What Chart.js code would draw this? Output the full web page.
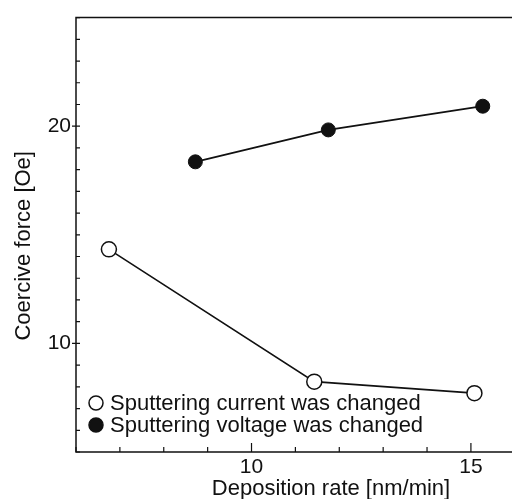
<!DOCTYPE html>
<html>
<head>
<meta charset="utf-8">
<script src="https://cdn.jsdelivr.net/npm/chart.js@4"></script>
<style>
  html, body { margin: 0; padding: 0; background: #fff; overflow: hidden; }
  #wrap { width: 600px; height: 499px; }
</style>
</head>
<body>
<div id="wrap"><canvas id="chart"></canvas></div>
<script>
// Sputtering current was changed (open circles)
const currentRate = [6.75, 11.43, 15.08];
const currentForce = [14.33, 8.24, 7.71];

// Sputtering voltage was changed (filled circles)
const voltageRate = [8.72, 11.75, 15.27];
const voltageForce = [18.36, 19.83, 20.92];

// Labelled ticks
const xTickLabels = [10, 15];
const yTickLabels = [10, 20];

const ink = '#111';
const font = '"Liberation Sans", Arial, sans-serif';

function toPoints(xs, ys) {
    return xs.map((x, i) => ({ x: x, y: ys[i] }));
}

// Frame (top, left, bottom), inward ticks, axis titles and inset legend
const decorations = {
    id: 'decorations',
    afterDraw(chart) {
        const { ctx, chartArea: a, scales: { x, y } } = chart;
        ctx.save();
        ctx.strokeStyle = ink;
        ctx.lineWidth = 1.5;
        ctx.beginPath();
        ctx.moveTo(a.right, a.top);
        ctx.lineTo(a.left, a.top);
        ctx.lineTo(a.left, a.bottom);
        ctx.lineTo(a.right, a.bottom);
        ctx.stroke();

        ctx.lineWidth = 1.2;
        ctx.beginPath();
        for (let v = Math.ceil(x.min); v < x.max; v++) {
            const px = x.getPixelForValue(v);
            const len = xTickLabels.includes(v) ? 9 : 5;
            ctx.moveTo(px, a.bottom);
            ctx.lineTo(px, a.bottom - len);
        }
        for (let v = Math.ceil(y.min); v <= y.max; v++) {
            const py = y.getPixelForValue(v);
            const major = yTickLabels.includes(v);
            ctx.moveTo(a.left - (major ? 4 : 0), py);
            ctx.lineTo(a.left + 4, py);
        }
        ctx.stroke();

        // Axis titles
        ctx.fillStyle = ink;
        ctx.font = '22px ' + font;
        ctx.textAlign = 'center';
        ctx.textBaseline = 'middle';
        ctx.fillText('Deposition rate [nm/min]', 331, 489);
        ctx.save();
        ctx.translate(24, (a.top + a.bottom) / 2 + 11);
        ctx.rotate(-Math.PI / 2);
        ctx.fillText('Coercive force [Oe]', 0, 0);
        ctx.restore();

        // Legend inside the plot, bottom left
        ctx.font = '22px ' + font;
        ctx.textAlign = 'left';
        chart.data.datasets.forEach((ds, i) => {
            const cy = a.bottom - 49 + i * 22;
            const cx = a.left + 20;
            ctx.beginPath();
            ctx.arc(cx, cy, 7, 0, Math.PI * 2);
            ctx.fillStyle = ds.pointBackgroundColor;
            ctx.fill();
            ctx.lineWidth = 1.5;
            ctx.strokeStyle = ink;
            ctx.stroke();
            ctx.fillStyle = ink;
            ctx.fillText(ds.label, a.left + 34, cy + 1);
        });
        ctx.restore();
    }
};

new Chart(document.getElementById('chart'), {
    type: 'line',
    data: {
        datasets: [{
            label: 'Sputtering current was changed',
            data: toPoints(currentRate, currentForce),
            borderColor: ink,
            borderWidth: 1.6,
            pointBackgroundColor: '#fff',
            pointBorderColor: ink,
            pointBorderWidth: 1.5,
            pointRadius: 7.5,
            tension: 0
        }, {
            label: 'Sputtering voltage was changed',
            data: toPoints(voltageRate, voltageForce),
            borderColor: ink,
            borderWidth: 1.8,
            pointBackgroundColor: ink,
            pointBorderColor: ink,
            pointBorderWidth: 1,
            pointRadius: 7,
            tension: 0
        }]
    },
    options: {
        responsive: true,
        maintainAspectRatio: false,
        animation: false,
        layout: { padding: { top: 14, right: 15, left: 0, bottom: 0 } },
        plugins: {
            legend: { display: false },
            tooltip: { enabled: false }
        },
        scales: {
            x: {
                type: 'linear',
                min: 6,
                max: 17.6,
                grid: { display: false, drawTicks: false },
                border: { display: false },
                ticks: {
                    stepSize: 1,
                    autoSkip: false,
                    maxRotation: 0,
                    padding: 3,
                    color: ink,
                    font: { family: font, size: 21 },
                    callback: v => xTickLabels.includes(v) ? v : ''
                },
                afterFit: scale => { scale.height = 47; }
            },
            y: {
                min: 5,
                max: 25,
                grid: { display: false, drawTicks: false },
                border: { display: false },
                ticks: {
                    stepSize: 1,
                    autoSkip: false,
                    padding: 5,
                    color: ink,
                    font: { family: font, size: 21 },
                    callback: v => yTickLabels.includes(v) ? v : ''
                },
                afterFit: scale => { scale.width = 76; }
            }
        }
    },
    plugins: [decorations]
});
</script>
</body>
</html>
